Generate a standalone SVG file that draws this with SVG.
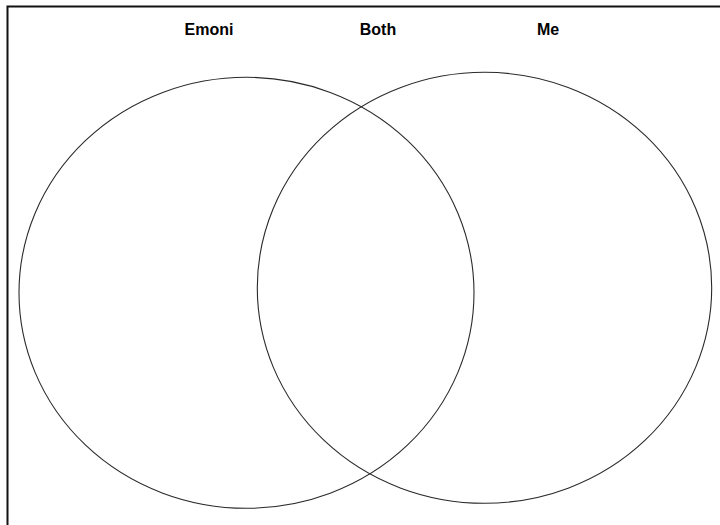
<svg xmlns="http://www.w3.org/2000/svg" width="720" height="525" viewBox="0 0 720 525">
<style>
.c{fill:none;stroke:#2a2a2a;stroke-width:1.1}
.t{font-family:"Liberation Sans",Arial,sans-serif;font-weight:bold;font-size:16px;fill:#000;text-anchor:middle}
</style>
<rect width="720" height="525" fill="#fff"/>
<path d="M7.5 526 V6.5 H721" fill="none" stroke="#111" stroke-width="2"/>
<g id="emoni">
<ellipse class="c" cx="246.5" cy="292.8" rx="227.5" ry="215.5"/>
<text class="t" x="209" y="35">Emoni</text>
</g>
<g id="me">
<ellipse class="c" cx="484.5" cy="287.8" rx="227.2" ry="215.5"/>
<text class="t" x="548" y="35">Me</text>
</g>
<g id="both">
<text class="t" x="378" y="35">Both</text>
</g>
<g id="connectors"></g>
</svg>
